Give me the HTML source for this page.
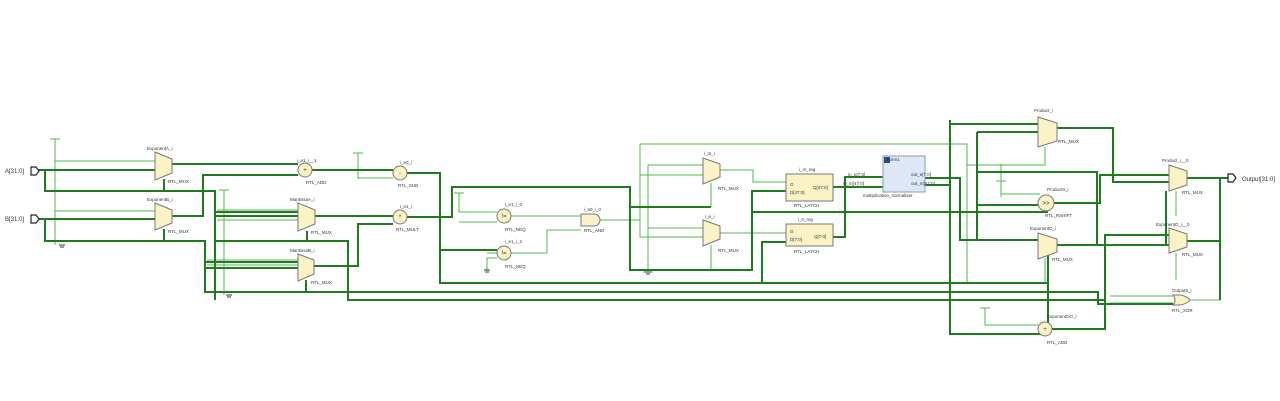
<!DOCTYPE html>
<html><head><meta charset="utf-8"><style>
html,body{margin:0;padding:0;background:#fff;}
svg{display:block;}
text{font-family:"Liberation Sans",sans-serif;fill:#333;}
.d{stroke:#1e7b1e;stroke-width:2;fill:none;}
.l{stroke:#4fb84f;stroke-width:1;fill:none;}
.c{fill:#fbf3c6;stroke:#777;stroke-width:1;}
.s{font-size:4.5px;}
.m{font-size:6px;}
.o{font-size:6px;text-anchor:middle;}
</style></head><body>
<svg width="1280" height="401" viewBox="0 0 1280 401" xmlns="http://www.w3.org/2000/svg">
<rect width="1280" height="401" fill="#fff"/>
<g class="l">
<path d="M55,139V245 M50,139H60 M55,161H155 M55,211H155"/>
<path d="M224,190V295 M219,190H229 M217,210H298 M217,220H298 M207,260H298 M207,265H298"/>
<path d="M358,153V179 M353,153H363 M358,178H393"/>
<path d="M459,193V212H497 M454,193H464 M459,222H497"/>
<path d="M487,253H498 M487,258V270 M487,258H497"/>
<path d="M511,216H581 M511,253H547V230H581 M600,220H640"/>
<path d="M640,144H967V283 M640,144V237H703 M640,175H703"/>
<path d="M648,165H703 M648,165V270 M648,228H703 M643,272H653"/>
<path d="M720,170H753V182H786 M720,233H786"/>
<path d="M711,183V207 M711,245V269"/>
<path d="M967,165H1045V147 M967,165V183 M1001,164V181 M1001,194H1040 M1001,181V197 M1001,205H1040 M996,181H1006"/>
<path d="M1045,258V283H968 M1176,191V216 M1176,253V280"/>
<path d="M1110,296H1173 M1110,303H1173 M1187,300H1220"/>
<path d="M985,308V325H1038 M980,308H990"/>
</g>
<g class="d">
<path d="M38,170H155 M38,219H155 M45,170V191H215V300 M45,219V241H205V292H1098V304H1173"/>
<path d="M215,212H298 M215,216H298 M205,262H298 M205,268H298 M215,241H348V300H1105"/>
<path d="M172,164H298 M172,216H203V175H298 M164,179V191 M164,229V241 M307,231V241 M306,280V292"/>
<path d="M312,170H393 M315,216H393 M313,266H358V224H393"/>
<path d="M407,173H440V283H1048 M407,217H452V187H630V270H752V191H786 M440,250H497"/>
<path d="M630,207H711 M752,212H1048 M762,283V242H786"/>
<path d="M833,187H883 M833,237H845V177H883"/>
<path d="M925,178H960V240H1038 M925,185H950V124H1038 M950,120V334H1048 M1048,250V334"/>
<path d="M977,132H1038 M977,132V240 M977,205H1040 M977,172H1097V245"/>
<path d="M1057,128H1113V182H1169 M1054,203H1100V175H1169 M1097,245H1166V191 M1057,245H1169"/>
<path d="M1052,329H1105V235H1169 M1187,178H1228 M1187,241H1220 M1220,178V300"/>
</g>
<path d="M31,167H36L39,171L36,175H31Z" fill="#fff" stroke="#222" stroke-width="1.2"/>
<path d="M31,215H36L39,219L36,223H31Z" fill="#fff" stroke="#222" stroke-width="1.2"/>
<path d="M1228,174H1233L1236,178L1233,182H1228Z" fill="#fff" stroke="#222" stroke-width="1.2"/>
<text x="5" y="173" class="m">A[31:0]</text>
<text x="5" y="221" class="m">B[31:0]</text>
<text x="1242" y="181" class="m">Output[31:0]</text>
<g class="c">
<path d="M155,152L172,159V173L155,180Z"/>
<path d="M155,203L172,210V223L155,230Z"/>
<path d="M298,203L315,210V224L298,231Z"/>
<path d="M298,254L314,260V274L298,281Z"/>
<path d="M703,158L720,164V177L703,184Z"/>
<path d="M703,220L720,226V239L703,246Z"/>
<path d="M1038,117L1057,123V141L1038,147Z"/>
<path d="M1038,233L1057,239V252L1038,259Z"/>
<path d="M1169,165L1187,171V185L1169,191Z"/>
<path d="M1169,228L1187,234V247L1169,253Z"/>
<circle cx="305" cy="170" r="7"/><circle cx="400" cy="173" r="7"/><circle cx="400" cy="217" r="7"/>
<circle cx="504" cy="216" r="7"/><circle cx="504" cy="253" r="7"/>
<circle cx="1046" cy="203" r="8"/><circle cx="1045" cy="329" r="7"/>
<path d="M581,214H594A6,6 0 0 1 594,226H581Z"/>
<path d="M1173,295H1180Q1187,296 1190,300Q1187,304 1180,305H1173Q1177,300 1173,295Z"/>
<rect x="786" y="174" width="47" height="27"/>
<rect x="786" y="224" width="47" height="22"/>
</g>
<text x="305" y="172" class="o">+</text><text x="400" y="175" class="o">-</text><text x="400" y="219" class="o">*</text>
<text x="504" y="218" class="o">!=</text><text x="504" y="255" class="o">!=</text>
<text x="1046" y="205" class="o">&gt;&gt;</text><text x="1045" y="331" class="o">+</text>
<rect x="883" y="156" width="42" height="36" fill="#dde7f6" stroke="#8a9cb5"/>
<rect x="884" y="157" width="6" height="6" fill="#2d4a8a"/>
<g stroke="#333" stroke-width="1"><path d="M59,245h6M60,247h4M226,295h6M227,297h4M645,272h6M646,274h4M484,270h6M485,272h4"/></g>
<g class="s">
<text x="147" y="150">ExponentA_i</text><text x="168" y="183">RTL_MUX</text>
<text x="147" y="201">ExponentB_i</text><text x="168" y="233">RTL_MUX</text>
<text x="290" y="201">MantissaA_i</text><text x="311" y="234">RTL_MUX</text>
<text x="290" y="252">MantissaB_i</text><text x="311" y="284">RTL_MUX</text>
<text x="297" y="162">i_e1_i__1</text><text x="306" y="184">RTL_ADD</text>
<text x="400" y="164">i_e0_i</text><text x="398" y="187">RTL_SUB</text>
<text x="400" y="208">i_e1_i</text><text x="396" y="231">RTL_MULT</text>
<text x="505" y="206">i_e1_i_0</text><text x="505" y="231">RTL_NEQ</text>
<text x="505" y="243">i_e1_i_2</text><text x="505" y="268">RTL_NEQ</text>
<text x="584" y="211">i_e0_i_0</text><text x="584" y="232">RTL_AND</text>
<text x="704" y="155">i_m_i</text><text x="718" y="190">RTL_MUX</text>
<text x="705" y="218">i_e_i</text><text x="718" y="252">RTL_MUX</text>
<text x="799" y="171">i_m_reg</text><text x="794" y="207">RTL_LATCH</text>
<text x="798" y="221">i_e_reg</text><text x="794" y="253">RTL_LATCH</text>
<text x="887" y="161">norm1</text><text x="863" y="197">multiplication_normaliser</text>
<text x="1034" y="112">Product_i</text><text x="1058" y="143">RTL_MUX</text>
<text x="1047" y="191">Product0_i</text><text x="1045" y="217">RTL_RSHIFT</text>
<text x="1030" y="230">ExponentO_i</text><text x="1052" y="261">RTL_MUX</text>
<text x="1162" y="162">Product_i__0</text><text x="1182" y="194">RTL_MUX</text>
<text x="1156" y="226">ExponentO_i__0</text><text x="1182" y="256">RTL_MUX</text>
<text x="1172" y="292">Output0_i</text><text x="1172" y="312">RTL_XOR</text>
<text x="1047" y="318">ExponentOO_i</text><text x="1047" y="344">RTL_ADD</text>
<text x="848" y="176">in_e[7:0]</text><text x="843" y="185">in_m[47:0]</text>
<text x="911" y="176">out_e[7:0]</text><text x="911" y="185">out_m[47:0]</text>
<text x="790" y="186">G</text><text x="790" y="194">D[47:0]</text><text x="813" y="189">Q[47:0]</text>
<text x="790" y="233">G</text><text x="790" y="241">D[7:0]</text><text x="814" y="238">Q[7:0]</text>
</g>
</svg>
</body></html>
